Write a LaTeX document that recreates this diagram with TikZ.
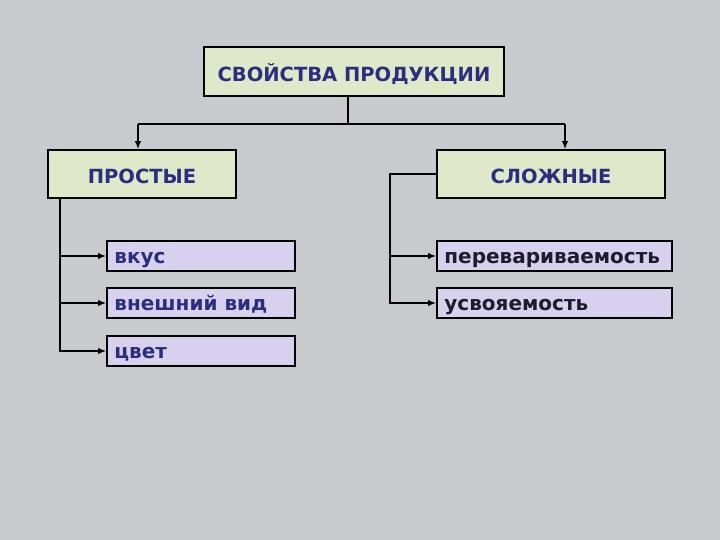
\documentclass[tikz,border=0pt]{standalone}
\usepackage{fontspec}
\setmainfont{DejaVu Sans}
\usetikzlibrary{arrows.meta}
\definecolor{bg}{HTML}{C8CBCD}
\definecolor{greenbox}{HTML}{DFE8C8}
\definecolor{purplebox}{HTML}{D8D1EE}
\definecolor{navy}{HTML}{2B2D80}
\definecolor{darktxt}{HTML}{1C1C30}
\tikzset{
  headbox/.style={draw=black, line width=1.6pt, fill=greenbox, rectangle, inner sep=0pt,
    font=\bfseries\fontsize{19.5}{22}\selectfont, text=navy, text height=20pt, text depth=0pt},
  itembox/.style={draw=black, line width=1.6pt, fill=purplebox, rectangle, inner sep=0pt},
  itemtxt/.style={anchor=base west, inner sep=0pt, font=\bfseries\fontsize{20}{22}\selectfont, text=navy},
  conn/.style={line width=1.6pt, draw=black},
  arr/.style={conn, -{Latex[length=8pt,width=6.5pt]}}
}
\begin{document}
\begin{tikzpicture}[x=1pt,y=-1pt]
\useasboundingbox (0,0) rectangle (720,540);
\fill[bg] (0,0) rectangle (720,540);

\node[headbox, minimum width=300pt, minimum height=49pt] (top) at (354,71.5) {СВОЙСТВА ПРОДУКЦИИ};
\node[headbox, minimum width=188pt, minimum height=48pt] (pr) at (142,174) {ПРОСТЫЕ};
\node[headbox, minimum width=228pt, minimum height=48pt] (sl) at (551,174) {СЛОЖНЫЕ};

\node[itembox, minimum width=188pt, minimum height=30pt] (vkus) at (201,256) {};
\node[itembox, minimum width=188pt, minimum height=30pt] (vid) at (201,303) {};
\node[itembox, minimum width=188pt, minimum height=30pt] (cvet) at (201,351) {};
\node[itembox, minimum width=235pt, minimum height=30pt] (per) at (554.5,256) {};
\node[itembox, minimum width=235pt, minimum height=30pt] (usv) at (554.5,303) {};

\node[itemtxt] (tvkus) at ([xshift=8pt,yshift=-7pt]vkus.west) {вкус};
\node[itemtxt] (tvid) at ([xshift=8pt,yshift=-7pt]vid.west) {внешний вид};
\node[itemtxt] (tcvet) at ([xshift=8pt,yshift=-7pt]cvet.west) {цвет};
\node[itemtxt, text=darktxt] (tper) at ([xshift=8pt,yshift=-7pt]per.west) {перевариваемость};
\node[itemtxt, text=darktxt] (tusv) at ([xshift=8pt,yshift=-7pt]usv.west) {усвояемость};

\coordinate (drop) at (348,124);
\coordinate (lft) at (138,124);
\coordinate (rgt) at (565,124);
\draw[conn] (top.south -| drop) -- (drop);
\draw[conn] (lft) -- (rgt);
\draw[arr] (lft) -- (lft |- pr.north);
\draw[arr] (rgt) -- (rgt |- sl.north);

\coordinate (lbus) at (60,198);
\draw[arr] (lbus |- pr.south) |- (vkus.west);
\draw[arr] (lbus |- pr.south) |- (vid.west);
\draw[arr] (lbus |- pr.south) |- (cvet.west);

\coordinate (rbus) at (390,174);
\draw[arr] (sl.west) -- (rbus |- sl.west) |- (per.west);
\draw[arr] (rbus |- sl.west) |- (usv.west);
\end{tikzpicture}
\end{document}
